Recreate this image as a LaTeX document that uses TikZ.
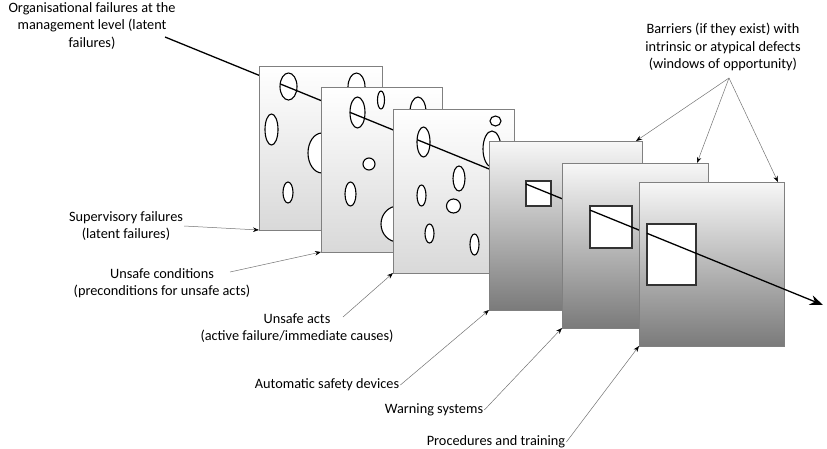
\documentclass[tikz,border=0pt]{standalone}
\usepackage{fontspec}
\setmainfont{Carlito}
\usepackage{tikz}
\usetikzlibrary{arrows.meta, calc}
\tikzstyle{layer} = [rectangle, anchor=north west, inner sep=0pt, outer sep=0pt, draw=black!50, line width=0.7pt]
\tikzstyle{cheese} = [layer, top color=white, bottom color=black!15]
\tikzstyle{barrier} = [layer, top color=black!3, bottom color=black!52]
\tikzstyle{hole} = [draw=black, fill=white, line width=1.1pt]
\tikzstyle{window} = [draw=black!80, fill=white, line width=1.2pt]
\tikzstyle{trajectory} = [line width=1.3pt, black]
\tikzstyle{pointer} = [draw=black!55, line width=0.5pt, -{Stealth[length=6pt, width=4.5pt, black]}]
\tikzstyle{desc} = [align=center, inner sep=1pt, text=black]
\tikzset{
  font={\fontsize{14.3pt}{17.5pt}\selectfont}}

\begin{document}
\begin{tikzpicture}[x=1pt, y=-1pt]
    \useasboundingbox (0,0) rectangle (827,448);

    % trajectory of the accident
    \coordinate (start) at (165,37);
    \coordinate (end) at (823,305);
    \draw [trajectory] (start) -- ($(start)!0.15!(end)$);

    % first layer
    \node (layer1) [cheese, minimum width=123pt, minimum height=164pt] at (259,66) {};
    \draw [hole] (288.5,86.5) ellipse (8.5pt and 13.5pt);
    \draw [hole] (356.5,87) ellipse (8.5pt and 14pt);
    \draw [hole] (271.5,129.5) ellipse (6.5pt and 15.5pt);
    \draw [hole] (322,153) ellipse (14pt and 20pt);
    \draw [hole] (288,192.5) ellipse (5pt and 10.5pt);
    \draw [trajectory] ($(start)!0.175!(end)$) -- ($(start)!0.8!(end)$);

    % second layer
    \node (layer2) [cheese, minimum width=121pt, minimum height=165pt] at (321,87) {};
    \draw [hole] (357.5,112.5) ellipse (7.5pt and 15.5pt);
    \draw [hole] (381,100) ellipse (3.5pt and 9pt);
    \draw [hole] (418,112) ellipse (8pt and 15pt);
    \draw [hole] (369,164) ellipse (6pt and 6pt);
    \draw [hole] (350.5,194) ellipse (5.5pt and 12pt);
    \draw [hole] (398,224) ellipse (17pt and 18pt);
    \draw [trajectory] ($(start)!0.2815!(end)$) -- ($(start)!0.8!(end)$);

    % third layer
    \node (layer3) [cheese, minimum width=121pt, minimum height=164pt] at (393,109) {};
    \draw [hole] (423.5,142) ellipse (6.5pt and 15pt);
    \draw [hole] (495.5,121) ellipse (5.5pt and 5pt);
    \draw [hole] (492,149) ellipse (9pt and 18pt);
    \draw [hole] (459,178.5) ellipse (6pt and 12.5pt);
    \draw [hole] (421.5,195.5) ellipse (4.5pt and 10.5pt);
    \draw [hole] (453.5,206) ellipse (7pt and 7pt);
    \draw [hole] (429.5,233.5) ellipse (4.5pt and 9.5pt);
    \draw [hole] (474.5,244.5) ellipse (4.5pt and 10.5pt);
    \draw [trajectory] ($(start)!0.3833!(end)$) -- ($(start)!0.8!(end)$);

    % barriers
    \node (layer4) [barrier, minimum width=153pt, minimum height=169pt] at (489,141) {};
    \draw [window] (526,181) rectangle (551,206);
    \draw [trajectory] ($(start)!0.5486!(end)$) -- ($(start)!0.8!(end)$);

    \node (layer5) [barrier, minimum width=146pt, minimum height=165pt] at (562,163) {};
    \draw [window] (590,206) rectangle (632,248);
    \draw [trajectory] ($(start)!0.6459!(end)$) -- ($(start)!0.8!(end)$);

    \node (layer6) [barrier, minimum width=145pt, minimum height=164pt] at (639,182) {};
    \draw [window] (647,224) rectangle (696,285);
    \draw [trajectory, -{Stealth[length=13pt, width=10pt]}] ($(start)!0.7325!(end)$) -- (end);

    % texts
    \node (orgfail) [desc] at (92,26) {Organisational failures at the\\management level (latent\\failures)};
    \node (barriers) [desc] at (723,47) {Barriers (if they exist) with\\intrinsic or atypical defects\\(windows of opportunity)};
    \node (supfail) [desc] at (126,226) {Supervisory failures\\(latent failures)};
    \node (unsafecond) [desc] at (162,283) {Unsafe conditions\\(preconditions for unsafe acts)};
    \node (unsafeacts) [desc] at (297,328) {Unsafe acts\\(active failure/immediate causes)};
    \node (autodev) [desc] at (327,385) {Automatic safety devices};
    \node (warnsys) [desc] at (434,410) {Warning systems};
    \node (proctrain) [desc] at (496,442) {Procedures and training};

    \coordinate (condpt) at (230,272);
    \coordinate (actspt) at (343,317);
    \coordinate (fork) at (729,78);

    \draw [pointer] (supfail.east) -- (layer1.south west);
    \draw [pointer] (condpt) -- (layer2.south west);
    \draw [pointer] (actspt) -- (layer3.south west);
    \draw [pointer] (autodev.east) -- (layer4.south west);
    \draw [pointer] (warnsys.east) -- (layer5.south west);
    \draw [pointer] (proctrain.east) -- (layer6.south west);
    \draw [pointer] (fork) -- ([xshift=-6pt]layer4.north east);
    \draw [pointer] (fork) -- ([xshift=-11pt]layer5.north east);
    \draw [pointer] (fork) -- ([xshift=-6pt]layer6.north east);
\end{tikzpicture}
\end{document}
